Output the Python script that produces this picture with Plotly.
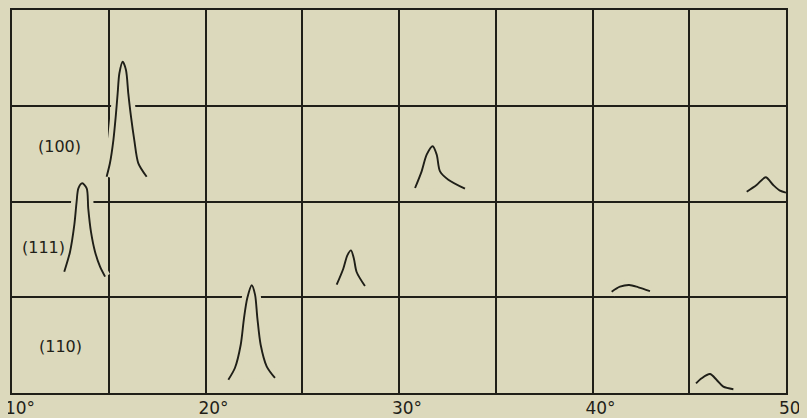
import plotly.graph_objects as go

# ---- data (2-theta in degrees, row-relative height) ----
# (100) reflection row (baseline band 2..3)
x_100 = [14.89, 15.06, 15.24, 15.36, 15.46, 15.55, 15.72, 15.89, 16.01, 16.15, 16.32, 16.53, 16.96, None,
         30.83, 31.17, 31.43, 31.74, 31.95, 32.12, 32.55, 33.41, None,
         47.97, 48.48, 48.95, 49.34, 49.69, 50.0]
y_100 = [2.259, 2.399, 2.642, 2.886, 3.130, 3.339, 3.460, 3.373, 3.130, 2.886, 2.642, 2.399, 2.259, None,
         2.141, 2.315, 2.489, 2.577, 2.489, 2.315, 2.228, 2.134, None,
         2.102, 2.172, 2.253, 2.172, 2.113, 2.092]

# (111) reflection row (baseline band 1..2)
x_111 = [12.70, 13.00, 13.22, 13.34, 13.43, 13.63, 13.86, 13.94, 14.08, 14.29, 14.55, 14.81, None,
         26.78, 27.12, 27.33, 27.52, 27.67, 27.81, 28.24, None,
         40.99, 41.42, 41.90, 42.37, 42.97]
y_111 = [1.267, 1.476, 1.755, 1.998, 2.138, 2.190, 2.138, 1.929, 1.685, 1.476, 1.319, 1.215, None,
         1.131, 1.298, 1.438, 1.490, 1.403, 1.264, 1.117, None,
         1.058, 1.110, 1.128, 1.104, 1.065]

# (110) reflection row (baseline band 0..1)
x_110 = [21.18, 21.52, 21.82, 21.99, 22.16, 22.39, 22.56, 22.68, 22.85, 23.16, 23.59, None,
         45.35, 45.64, 46.07, 46.42, 46.76, 47.28]
y_110 = [0.139, 0.261, 0.504, 0.783, 0.992, 1.125, 1.027, 0.783, 0.504, 0.279, 0.157, None,
         0.101, 0.154, 0.198, 0.136, 0.066, 0.039]

row_labels = ["(100)", "(111)", "(110)"]
label_x = [12.48, 11.65, 12.53]
label_y = [2.57, 1.52, 0.49]

x_grid = [10, 15, 20, 25, 30, 35, 40, 45, 50]
x_ticktext = ["10°", "", "20°", "", "30°", "", "40°", "", "50°"]
y_grid = [0, 1, 2, 3, 4]

BG = "#dcd9bc"
INK = "#1f1f18"

fig = go.Figure()
series = [(x_100, y_100), (x_111, y_111), (x_110, y_110)]
# halo (paper-coloured) under each curve, breaking the grid lines
for xs, ys in series:
    fig.add_trace(go.Scatter(x=xs, y=ys, mode="lines", hoverinfo="skip",
                             fill="toself", fillcolor=BG,
                             line=dict(color=BG, width=11, shape="spline", smoothing=0.8),
                             showlegend=False))
for xs, ys in series:
    fig.add_trace(go.Scatter(x=xs, y=ys, mode="lines",
                             line=dict(color=INK, width=1.9, shape="spline", smoothing=0.8),
                             showlegend=False))

for t, lx, ly in zip(row_labels, label_x, label_y):
    fig.add_annotation(x=lx, y=ly, text=t, showarrow=False,
                       font=dict(family="DejaVu Sans", size=16, color=INK))

# the page body has an 8px margin: figure occupies 799x410 starting at (8, 8)
fig.update_layout(
    width=799, height=410,
    template="none",
    paper_bgcolor=BG, plot_bgcolor=BG,
    margin=dict(l=4, r=21, t=2, b=25),
    showlegend=False,
)
fig.update_xaxes(range=[10, 50], tickvals=x_grid, ticktext=x_ticktext,
                 showgrid=True, gridcolor=INK, gridwidth=2,
                 showline=True, linecolor=INK, linewidth=2, mirror=True,
                 zeroline=False, ticks="", automargin=False, ticklabelshift=8,
                 ticklabelstandoff=-1, ticklabeloverflow="allow",
                 tickfont=dict(family="DejaVu Sans", size=17, color=INK))
fig.update_yaxes(range=[0, 4], tickvals=y_grid, showticklabels=False,
                 showgrid=True, gridcolor=INK, gridwidth=2,
                 showline=True, linecolor=INK, linewidth=2, mirror=True,
                 zeroline=False, ticks="", automargin=False)

fig.write_html("out.html", post_script="document.body.style.background='%s';" % BG)
